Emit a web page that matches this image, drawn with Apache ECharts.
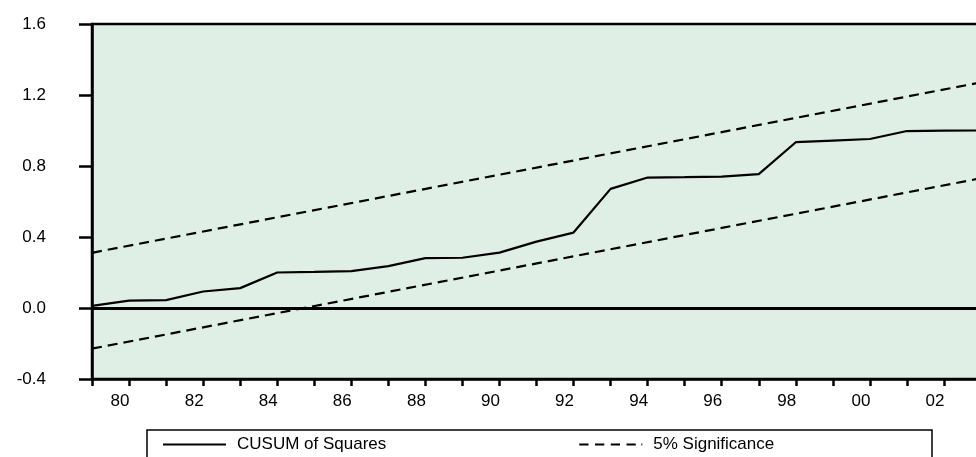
<!DOCTYPE html>
<html>
<head>
<meta charset="utf-8">
<script src="https://cdn.jsdelivr.net/npm/echarts@6/dist/echarts.min.js"></script>
<style>
html,body{margin:0;padding:0;background:#fff;}
#chart{width:976px;height:457px;}
</style>
</head>
<body>
<div id="chart"></div>
<script>
// ---- data ----
const years = [1979,1980,1981,1982,1983,1984,1985,1986,1987,1988,1989,1990,1991,1992,1993,1994,1995,1996,1997,1998,1999,2000,2001,2002,2003];
const cusumSq = [0.012,0.042,0.044,0.093,0.112,0.200,0.203,0.208,0.236,0.281,0.283,0.312,0.374,0.425,0.671,0.735,0.737,0.740,0.754,0.934,0.943,0.952,0.997,0.999,1.000];
const upperBand = [[1979,0.311],[2003,1.271]];
const lowerBand = [[1979,-0.229],[2003,0.731]];
const yTicks = [-0.4,0.0,0.4,0.8,1.2,1.6];
const seriesNames = ['CUSUM of Squares','5% Significance'];

const FONT = '"Liberation Sans", Arial, Helvetica, sans-serif';
const chart = echarts.init(document.getElementById('chart'), null, {renderer:'canvas'});

const solidIcon = 'path://M0,0L63,0L63,2.2L0,2.2Z';
const dashIcon = 'path://M0,0h10v2.2h-10z M17,0h10v2.2h-10z M34,0h10v2.2h-10z M51,0h10v2.2h-10z M67,0h1v2.2h-1z';

chart.setOption({
  animation:false,
  backgroundColor:'#ffffff',
  textStyle:{fontFamily:FONT, color:'#000'},
  grid:{left:92, top:24, width:889, height:355, show:true, backgroundColor:'#e0efe5', borderColor:'#000', borderWidth:2.5,
        containLabel:false, outerBoundsMode:'none'},
  xAxis:{
    type:'value', min:years[0], max:years[years.length-1], interval:1,
    axisLine:{show:true, onZero:false, lineStyle:{color:'#000', width:2.5}},
    axisTick:{show:true, inside:false, length:7, lineStyle:{color:'#000', width:2.5}},
    splitLine:{show:false},
    axisLabel:{
      show:true, margin:14, fontSize:17, color:'#000', fontFamily:FONT,
      padding:[0,18,0,0],
      showMinLabel:true, showMaxLabel:true,
      formatter:function(v){ return (v % 2 === 0) ? String(v).slice(2) : ''; }
    }
  },
  yAxis:{
    type:'value', min:yTicks[0], max:yTicks[yTicks.length-1], interval:0.4,
    axisLine:{show:true, onZero:false, lineStyle:{color:'#000', width:2.5}},
    axisTick:{show:true, inside:false, length:13, lineStyle:{color:'#000', width:2.5}},
    splitLine:{show:false},
    axisLabel:{margin:46, fontSize:17, color:'#000', fontFamily:FONT,
      formatter:function(v){ return v.toFixed(1); }}
  },
  legend:{
    left:158, top:431, itemWidth:63, itemHeight:2.2, itemGap:193,
    textStyle:{fontSize:17, color:'#000', fontFamily:FONT, padding:[0,0,0,6]},
    data:[{name:seriesNames[0], icon:solidIcon, itemStyle:{color:'#000'}},
          {name:seriesNames[1], icon:dashIcon, itemStyle:{color:'#000'}}]
  },
  graphic:[{type:'rect', shape:{x:147, y:430, width:785, height:40}, style:{fill:'none', stroke:'#000', lineWidth:1.5}, silent:true}],
  series:[
    {name:seriesNames[0], type:'line', data:years.map((y,i)=>[y,cusumSq[i]]), symbol:'none',
     lineStyle:{color:'#000', width:2.2}, itemStyle:{color:'#000'},
     markLine:{silent:true, symbol:'none', label:{show:false}, lineStyle:{color:'#000', width:3, type:'solid'}, data:[{yAxis:0}]}},
    {name:seriesNames[1], type:'line', data:upperBand, symbol:'none',
     lineStyle:{color:'#000', width:2.2, type:[10,6]}, itemStyle:{color:'#000'}},
    {name:seriesNames[1], type:'line', data:lowerBand, symbol:'none',
     lineStyle:{color:'#000', width:2.2, type:[10,6]}, itemStyle:{color:'#000'}}
  ]
});
</script>
</body>
</html>
